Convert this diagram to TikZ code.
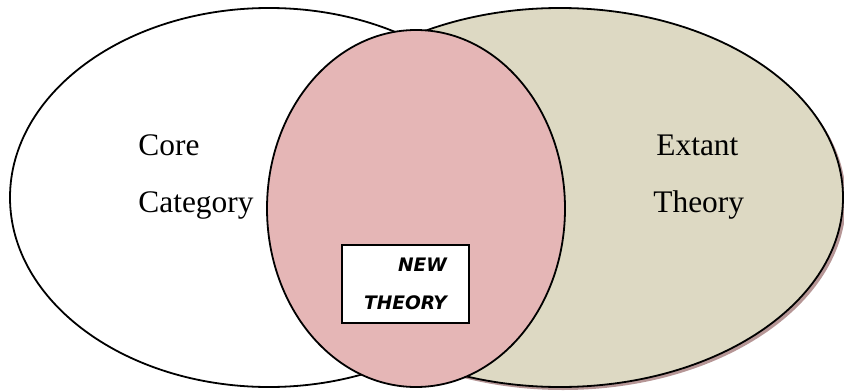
\documentclass[tikz,border=0pt]{standalone}
\usepackage{fontspec}
\setmainfont{Liberation Serif}
\newfontfamily\boxfont{DejaVu Sans}
\usetikzlibrary{shapes}

\definecolor{extantfill}{RGB}{221,217,195}
\definecolor{newfill}{RGB}{229,182,182}
\definecolor{shadowfill}{RGB}{182,150,150}

\begin{document}
\begin{tikzpicture}
		[
			x=0.5pt, y=-0.5pt,
			ring/.style={draw, line width=0.9pt},
			word/.style={font=\fontsize{15.7}{19}\selectfont, inner sep=0pt, anchor=base west},
			newbox/.style={draw, fill=white, line width=1pt, minimum width=63.5pt, minimum height=39pt,
				align=right, font=\boxfont\bfseries\itshape\fontsize{9.3}{19}\selectfont},
		]

		\useasboundingbox (0,0) rectangle (844,390);

		% Sets
		\draw[ring, fill=white] (269,197.5) ellipse [x radius=259, y radius=189.5];
		\fill[shadowfill] (563,200.5) ellipse [x radius=283, y radius=189.5];
		\draw[ring, fill=extantfill] (560,197.5) ellipse [x radius=283, y radius=189.5];
		\draw[ring, fill=newfill] (416,208.5) ellipse [x radius=149, y radius=178.5];

		% Labels
		\foreach \name/\x/\y/\text in
		{
			core/138/155/Core,
			category/138/212/Category,
			extant/656/155/Extant,
			theory/653/212/Theory
		}
			\node[word] (\name) at (\x,\y) {\text};

		% Overlap
		\node[newbox] (newtheory) at (405.5,284) {NEW\\THEORY};

		\end{tikzpicture}
\end{document}
